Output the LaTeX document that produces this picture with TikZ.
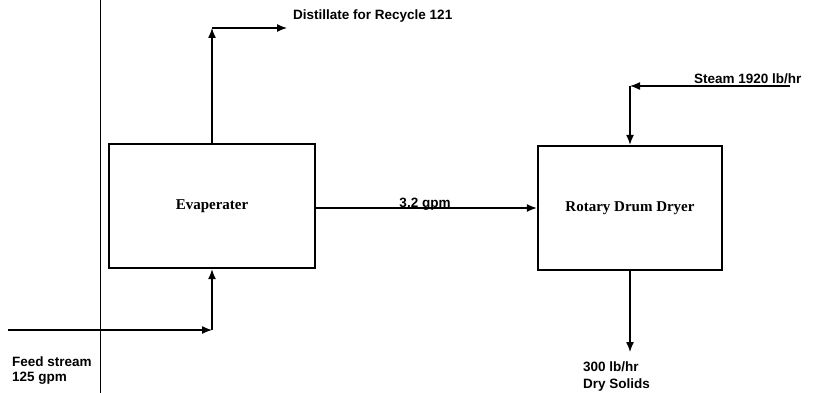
\documentclass[tikz,border=0pt]{standalone}
\usepackage{fontspec}
\setmainfont{Liberation Serif}
\setsansfont{Liberation Sans}
\usetikzlibrary{arrows.meta}
\begin{document}
\begin{tikzpicture}[x=1pt,y=-1pt,
  unit/.style={draw,line width=2.4pt,minimum width=#1,minimum height=124pt,inner sep=0pt,font=\rmfamily\bfseries\fontsize{15}{17}\selectfont},
  flow/.style={line width=1.3pt,-{Latex[length=10pt,width=8pt]}},
  lbl/.style={font=\sffamily\bfseries\fontsize{13.5}{15}\selectfont,inner sep=0pt}]
\useasboundingbox (0,0) rectangle (819,393);
% page rule
\draw[line width=0.8pt] (100,0) -- (100,393);
% units
\node[unit=206pt] (evap) at (212,206) {Evaperater};
\node[unit=184pt] (dryer) at (630,208) {Rotary Drum Dryer};
% distillate
\coordinate (dtop) at (evap.north |- 0,28);
\coordinate (dend) at (287,28);
\draw[flow] (evap.north) -- (dtop);
\draw[flow] (dtop) -- (dend);
\node[lbl,anchor=west] (dlab) at (293,16) {Distillate for Recycle 121};
% 3.2 gpm
\draw[flow] (evap.east |- 0,208) -- (dryer.west |- 0,208);
\node[lbl,anchor=base] (glab) at (425,207) {3.2 gpm};
% steam
\coordinate (sstart) at (790,86);
\coordinate (scorner) at (dryer.north |- 0,86);
\draw[flow] (sstart) -- (scorner);
\draw[flow] (scorner) -- (dryer.north);
\node[lbl,anchor=base west] (slab) at (694,84) {Steam 1920 lb/hr};
% solids
\coordinate (solend) at (dryer.south |- 0,352);
\draw[flow] (dryer.south) -- (solend);
\node[lbl,anchor=west] (sol1) at (583,367) {300 lb/hr};
\node[lbl,anchor=west] (sol2) at (583,385) {Dry Solids};
% feed
\coordinate (fstart) at (8,330);
\coordinate (fcorner) at (evap.south |- 0,330);
\draw[flow] (fstart) -- (fcorner);
\draw[flow] (fcorner) -- (evap.south);
\node[lbl,anchor=west] (f1) at (12,362) {Feed stream};
\node[lbl,anchor=west] (f2) at (12,378) {125 gpm};
\end{tikzpicture}
\end{document}
